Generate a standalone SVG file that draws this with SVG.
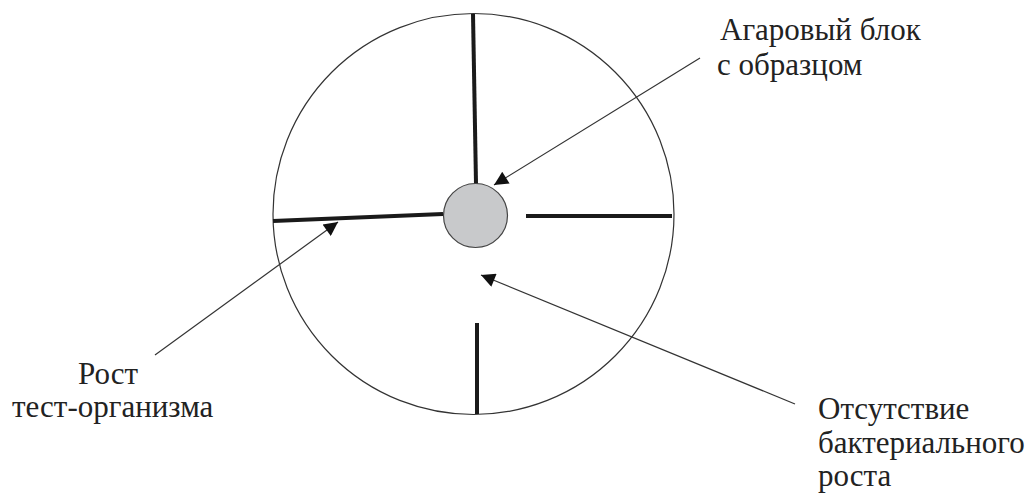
<svg xmlns="http://www.w3.org/2000/svg" width="1032" height="494" viewBox="0 0 1032 494">
<style>
.t{font-family:'Liberation Serif','Times New Roman',serif;font-size:31px;fill:#222}
.bar{stroke:#1a1a1a;stroke-width:4;fill:none}
.ptr{stroke:#333;stroke-width:1.2;fill:none}
</style>
<defs>
<marker id="ah" viewBox="0 0 10 10" refX="10" refY="5" markerWidth="20" markerHeight="14" markerUnits="userSpaceOnUse" orient="auto">
<path d="M0,0 L10,5 L0,10 Z" fill="#111"/>
</marker>
</defs>
<g id="dish">
<circle cx="473.5" cy="214" r="200.5" fill="#fff" stroke="#333" stroke-width="1.2"/>
</g>
<g id="growth">
<path class="bar" d="M473,14 L476,184"/>
<path class="bar" d="M273,221 L443,214"/>
<path class="bar" d="M526,216 L672,216"/>
<path class="bar" d="M477,323 L477,414"/>
</g>
<g id="agar-block">
<circle cx="475.5" cy="215.5" r="32" fill="#c8c9cb" stroke="#444" stroke-width="1.2"/>
</g>
<g id="connectors">
<path class="ptr" d="M700,58 L494,185" marker-end="url(#ah)"/>
<path class="ptr" d="M155,355 L338,222" marker-end="url(#ah)"/>
<path class="ptr" d="M795,404 L481,275" marker-end="url(#ah)"/>
</g>
<g id="label-agar">
<text class="t" x="720" y="40">Агаровый блок</text>
<text class="t" x="717" y="75">с образцом</text>
</g>
<g id="label-growth">
<text class="t" x="78" y="384">Рост</text>
<text class="t" x="12" y="417">тест-организма</text>
</g>
<g id="label-nogrowth">
<text class="t" x="818" y="419">Отсутствие</text>
<text class="t" x="818" y="453">бактериального</text>
<text class="t" x="818" y="486">роста</text>
</g>
</svg>
